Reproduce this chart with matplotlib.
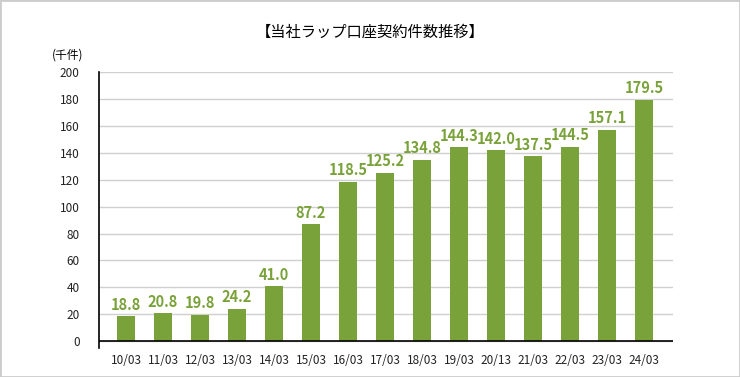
import matplotlib
matplotlib.use("Agg")
import matplotlib.pyplot as plt
from matplotlib.patches import Rectangle

plt.rcParams['font.family'] = ['Noto Sans CJK JP', 'DejaVu Sans']

periods = ["10/03", "11/03", "12/03", "13/03", "14/03", "15/03", "16/03", "17/03",
           "18/03", "19/03", "20/13", "21/03", "22/03", "23/03", "24/03"]
contracts = [18.8, 20.8, 19.8, 24.2, 41.0, 87.2, 118.5, 125.2,
             134.8, 144.3, 142.0, 137.5, 144.5, 157.1, 179.5]
yticks = list(range(0, 201, 20))

green = "#7aa23a"

fig = plt.figure(figsize=(7.4, 3.77), dpi=100)
ax = fig.add_axes([99/740, 29/377, (673-99)/740, (348-72)/377])

x = range(len(periods))
ax.bar(x, contracts, width=0.49, color=green, zorder=3)
for i, v in enumerate(contracts):
    ax.text(i, v + 2.5, f"{v:.1f}", ha="center", va="bottom", color=green,
            fontsize=10.5, fontweight="bold", zorder=4)

ax.set_xlim(-0.73, 14.78)
ax.set_ylim(-5, 200)
ax.set_yticks(yticks)
ax.set_yticklabels([str(t) for t in yticks], fontsize=8.5, color="#222222")
ax.set_xticks(list(x))
ax.set_xticklabels(periods, fontsize=8.5, color="#222222")
ax.tick_params(axis="both", length=0)
ax.tick_params(axis="y", pad=14)
ax.tick_params(axis="x", pad=4)
ax.grid(axis="y", color="#d0d0d0", linewidth=1, zorder=0)
ax.axhline(0, color="black", linewidth=1.2, zorder=4)
for s in ["top", "right", "bottom"]:
    ax.spines[s].set_visible(False)
ax.spines["left"].set_linewidth(1.2)
ax.spines["left"].set_zorder(5)

fig.text(0.5, 1 - 32/377, "【当社ラップ口座契約件数推移】", ha="center", va="center", fontsize=11)
fig.text(52/740, 1 - 55/377, "(千件)", ha="left", va="center", fontsize=8.5)

fig.patches.append(Rectangle((0, 0), 1, 1, transform=fig.transFigure, fill=False,
                             edgecolor="#cccccc", linewidth=2))

fig.savefig("out.png", dpi=100)
